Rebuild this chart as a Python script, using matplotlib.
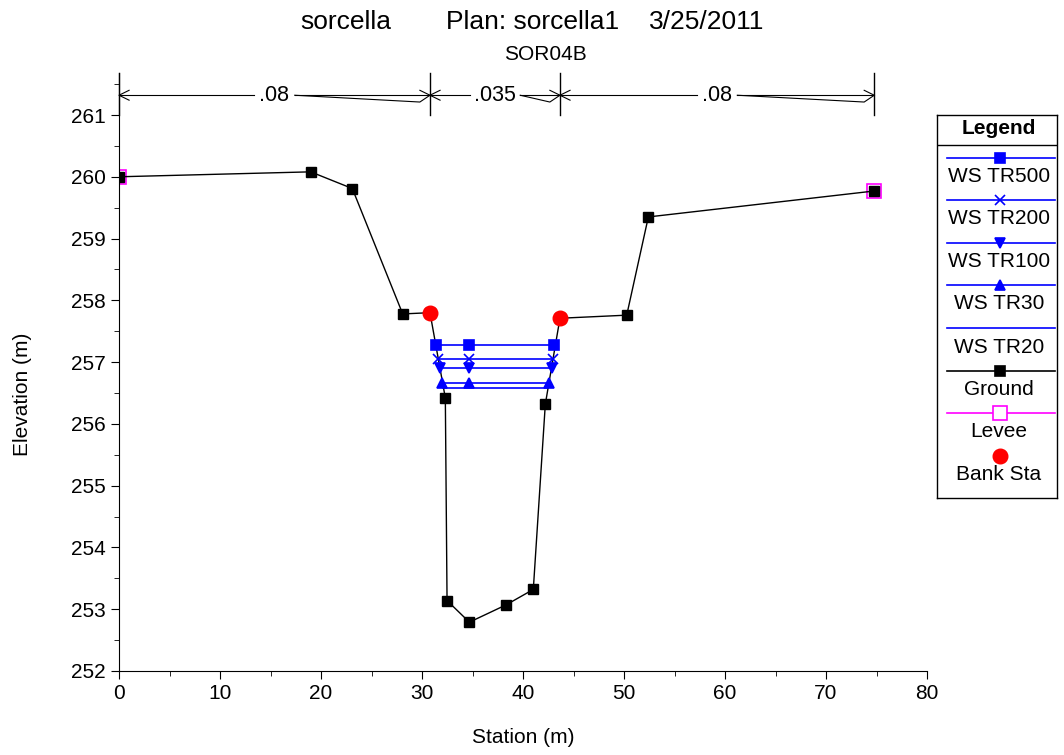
import numpy as np
import matplotlib
matplotlib.use('Agg')
import matplotlib.pyplot as plt
from matplotlib.ticker import MultipleLocator

plt.rcParams['font.family'] = ['Liberation Sans', 'DejaVu Sans']

# ground profile
gr_sta = [0, 18.98, 23.1, 28.09, 30.79, 32.31, 32.48, 34.69, 38.32, 41.02, 42.21, 43.66, 50.27, 52.41, 74.78]
gr_elev = [260.0, 260.08, 259.81, 257.78, 257.80, 256.42, 253.14, 252.79, 253.07, 253.32, 256.32, 257.71, 257.76, 259.35, 259.77]

# levees and bank stations
levee_sta = [0, 74.78]
levee_elev = [260.0, 259.77]
bank_sta = [30.79, 43.66]
bank_elev = [257.80, 257.71]

# water surfaces: name, elevation, left/right edge
ws_names = ['WS TR500', 'WS TR200', 'WS TR100', 'WS TR30', 'WS TR20']
ws_elev = [257.27, 257.05, 256.91, 256.66, 256.58]
ws_left = [31.39, 31.55, 31.78, 32.0, 32.1]
ws_right = [43.07, 43.0, 42.9, 42.57, 42.5]
ws_mid = 34.69
ws_markers = ['s', 'x', 'v', '^', None]

# manning's n
n_vals = ['.08', '.035', '.08']
n_bounds = [0, 30.79, 43.66, 74.78]
n_gap = [2.0, 2.5, 2.0]

W, H = 1064, 755
fig = plt.figure(figsize=(W / 100, H / 100), dpi=100)
ax = fig.add_axes([119 / W, 1 - 671 / H, 808 / W, 598 / H])
ax.set_xlim(0, 80)
ax.set_ylim(252, 261.68)

blue = '#0000ff'
for i in range(len(ws_names)):
    xs = [ws_left[i], ws_right[i]]
    ys = [ws_elev[i], ws_elev[i]]
    ax.plot(xs, ys, color=blue, lw=1.2, zorder=3)
    if ws_markers[i] is not None:
        mx = [ws_left[i], ws_mid, ws_right[i]]
        ax.plot(mx, [ws_elev[i]] * 3, ls='none', marker=ws_markers[i], color=blue,
                ms=7, mew=1.2, zorder=4)

ax.plot(levee_sta, levee_elev, ls='none', marker='s', ms=10, mfc='none', mec='#ff00ff',
        mew=1.2, zorder=2)
ax.plot(gr_sta, gr_elev, color='black', lw=1, marker='s', ms=6.5, zorder=3)
ax.plot(bank_sta, bank_elev, ls='none', marker='o', ms=10.5, color='red', zorder=5)

# manning's n header
yl = 261.32
for b in n_bounds:
    ax.plot([b, b], [261.0, 261.68], color='black', lw=1, clip_on=False)
for i in range(len(n_vals)):
    a, b = n_bounds[i], n_bounds[i + 1]
    c = (a + b) / 2
    g = n_gap[i]
    ax.plot([a, c - g], [yl, yl], color='black', lw=0.8, clip_on=False)
    ax.plot([a + 1.0, a, a + 1.0], [yl + 0.08, yl, yl - 0.08], color='black', lw=0.8, clip_on=False)
    ax.plot([c + g, b], [yl, yl], color='black', lw=0.8, clip_on=False)
    ax.plot([c + g, b - 1.0, b, b - 1.0], [yl, yl - 0.11, yl, yl + 0.08], color='black', lw=0.8,
            clip_on=False)
    ax.text(c, yl, n_vals[i], ha='center', va='center', fontsize=15.5)

ax.spines['top'].set_visible(False)
ax.spines['right'].set_visible(False)
ax.xaxis.set_major_locator(MultipleLocator(10))
ax.xaxis.set_minor_locator(MultipleLocator(5))
ax.set_yticks(np.arange(252, 262, 1))
ax.yaxis.set_minor_locator(MultipleLocator(0.5))
ax.tick_params(which='major', direction='out', length=6, labelsize=15)
ax.tick_params(which='minor', direction='out', length=3.5)
ax.set_xlabel('Station (m)', fontsize=15)
ax.set_ylabel('Elevation (m)', fontsize=15)
ax.xaxis.set_label_coords(0.5, -57 / 598)
ax.yaxis.set_label_coords(-87 / 808, 0.5 - 22 / 598)

fig.text(346 / W, 1 - 22 / H, 'sorcella', ha='center', va='center', fontsize=19)
fig.text(533 / W, 1 - 22 / H, 'Plan: sorcella1', ha='center', va='center', fontsize=19)
fig.text(707 / W, 1 - 22 / H, '3/25/2011', ha='center', va='center', fontsize=19)
fig.text(545 / W, 1 - 55 / H, 'SOR04B', ha='center', va='center', fontsize=15)

# legend box drawn in pixel coordinates
lg = fig.add_axes([937 / W, 1 - 498 / H, 120 / W, 383 / H])
lg.set_xlim(937, 1057)
lg.set_ylim(498, 115)
lg.set_xticks([])
lg.set_yticks([])
for s in lg.spines.values():
    s.set_linewidth(1)
lg.text(999, 129, 'Legend', ha='center', va='center', fontsize=15, fontweight='bold')
lg.plot([937, 1057], [145, 145], color='black', lw=1)

leg_names = ws_names + ['Ground', 'Levee', 'Bank Sta']
leg_colors = [blue] * 5 + ['black', '#ff00ff', 'red']
leg_markers = ws_markers + ['s', 's', 'o']
leg_line_y = [157.7, 200, 242.7, 285, 328.3, 370.7, 413.3, 456]
leg_text_y = [176.7, 218, 261.7, 304, 347.3, 389.3, 431.7, 475]
for i in range(len(leg_names)):
    if leg_names[i] != 'Bank Sta':
        lg.plot([947, 1055], [leg_line_y[i], leg_line_y[i]], color=leg_colors[i], lw=1.2)
    if leg_markers[i] is not None:
        if leg_names[i] == 'Levee':
            lg.plot([1000], [leg_line_y[i]], marker='s', ms=10, mfc='white', mec=leg_colors[i], mew=1.2)
        elif leg_names[i] == 'Bank Sta':
            lg.plot([1000], [leg_line_y[i]], marker='o', ms=10.5, color='red', ls='none')
        else:
            lg.plot([1000], [leg_line_y[i]], marker=leg_markers[i], ms=6.5, color=leg_colors[i],
                    mew=1.2, ls='none')
    lg.text(999, leg_text_y[i], leg_names[i], ha='center', va='center', fontsize=15)

fig.savefig('out.png', dpi=100)
